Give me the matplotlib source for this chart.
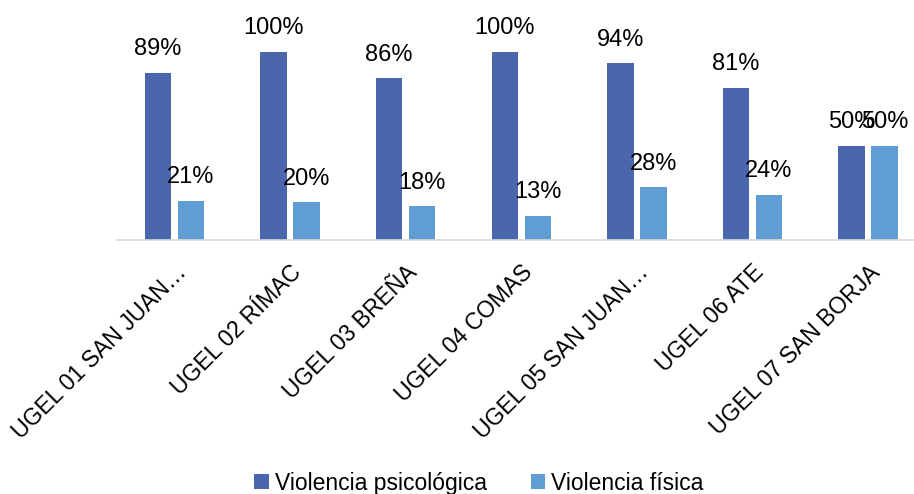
import matplotlib
matplotlib.use("Agg")
from matplotlib import pyplot as plt
import numpy as np

# data
ugeles = ["UGEL 01 SAN JUAN…", "UGEL 02 RÍMAC", "UGEL 03 BREÑA", "UGEL 04 COMAS",
          "UGEL 05 SAN JUAN…", "UGEL 06 ATE", "UGEL 07 SAN BORJA"]
psicologica = [89, 100, 86, 100, 94, 81, 50]
fisica = [21, 20, 18, 13, 28, 24, 50]

plt.rcParams['font.family'] = ['Liberation Sans', 'DejaVu Sans']

W, H, DPI = 914, 494, 100
fig = plt.figure(figsize=(W / DPI, H / DPI), dpi=DPI)

# plot area in pixels: baseline at y=240, categories 115.6 px wide starting at x=116.7
left_px, base_px, cat_px = 116.7, 240, 115.6
ax = fig.add_axes([left_px / W, 1 - base_px / H, cat_px * len(ugeles) / W, base_px / H])
ax.set_xlim(-0.5, len(ugeles) - 0.5)
ax.set_ylim(0, 100 * base_px / 188)

x = np.arange(len(ugeles))
bw = 0.229
off = 0.143
dark = "#4A66AC"
light = "#5F9DD3"
b1 = ax.bar(x - off, psicologica, bw, color=dark, label="Violencia psicológica")
b2 = ax.bar(x + off, fisica, bw, color=light, label="Violencia física")

for bars in (b1, b2):
    for rect in bars:
        ax.annotate(f"{rect.get_height():.0f}%",
                    (rect.get_x() + rect.get_width() / 2, rect.get_height()),
                    xytext=(0, 12.6), textcoords="offset points",
                    ha="center", va="baseline", fontsize=17, color="black",
                    annotation_clip=False)

for s in ["top", "right", "left"]:
    ax.spines[s].set_visible(False)
ax.spines["bottom"].set_color("#D9D9D9")
ax.spines["bottom"].set_linewidth(1.2)
ax.set_yticks([])
ax.set_xticks(x)
ax.set_xticklabels(ugeles, rotation=45, ha="right", rotation_mode="anchor", fontsize=16.5)
ax.tick_params(axis="x", length=0, pad=15)

fig.legend(handles=[b1, b2], loc="center", bbox_to_anchor=(479 / W, 1 - 483 / H),
           ncol=2, frameon=False, fontsize=16.5, handlelength=0.65, handleheight=0.65,
           handletextpad=0.25, columnspacing=1.9)

plt.savefig("out.png", dpi=DPI)
